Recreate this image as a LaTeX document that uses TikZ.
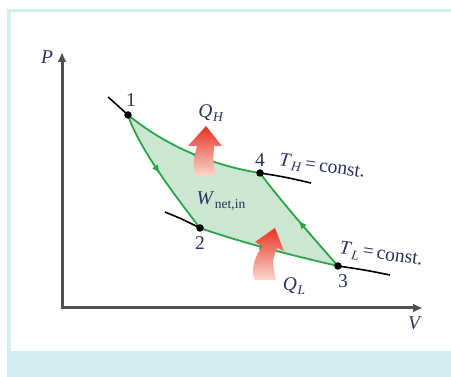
\documentclass[tikz,border=0pt]{standalone}
\usepackage{fontspec}
\setmainfont{Liberation Serif}
\usetikzlibrary{arrows.meta,decorations.markings}
\definecolor{panel}{RGB}{210,238,238}
\definecolor{cycfill}{RGB}{204,230,210}
\definecolor{cycline}{RGB}{40,165,70}
\definecolor{ink}{RGB}{40,50,95}
\definecolor{axisgray}{RGB}{80,80,80}
\definecolor{heattop}{RGB}{232,50,35}
\definecolor{heatbot}{RGB}{250,215,205}
\newcommand{\lowsub}[1]{\kern0.6pt\raisebox{-0.4ex}{\fontsize{13.5}{14}\selectfont #1}}

\begin{document}
\begin{tikzpicture}[x=1pt,y=-1pt,
  every node/.style={font=\fontsize{19.5}{21}\selectfont, text=ink, inner sep=0.5pt},
  proc/.style={cycline, line width=1.8pt, postaction={decorate},
    decoration={markings, mark=at position 0.5 with {\arrow{Latex[length=9pt,width=7pt]}}}},
  iso/.style={black, line width=1.6pt},
  axis/.style={axisgray, line width=3pt, -{Latex[length=10pt,width=9pt]}},
  state/.style={circle, fill=black, inner sep=0pt, minimum size=7.5pt},
  heat/.style={top color=heattop, bottom color=heatbot}]
  \useasboundingbox (0,0) rectangle (451,377);
  % panel
  \fill[panel] (7,9) rectangle (451,377);
  \fill[white] (11,12) rectangle (451,351);
  % axes
  \coordinate (o) at (62,308);
  \coordinate (ptop) at (62,52);
  \coordinate (vend) at (423,308);
  \draw[axis] (o) -- (ptop);
  \draw[axis] ([xshift=-1.5pt]o) -- (vend);
  \node (P) at (47,57) {\textit{P}};
  \node (V) at (415,323) {\textit{V}};
  % states
  \coordinate (s1) at (128,115);
  \coordinate (s2) at (200,228);
  \coordinate (s3) at (338,266);
  \coordinate (s4) at (260,173);
  \coordinate (h0) at (108,97);
  \coordinate (h5) at (311,183);
  \coordinate (l0) at (165,212);
  \coordinate (l5) at (390,275);
  % cycle
  \fill[cycfill] (s1) .. controls (138,146) and (172,192) .. (s2)
    .. controls (240,242) and (290,255) .. (s3)
    .. controls (315,240) and (280,200) .. (s4)
    .. controls (210,165) and (165,145) .. (s1) -- cycle;
  \draw[proc] (s1) .. controls (138,146) and (172,192) .. (s2);
  \draw[proc] (s2) .. controls (240,242) and (290,255) .. (s3);
  \draw[proc] (s3) .. controls (315,240) and (280,200) .. (s4);
  \draw[proc] (s4) .. controls (210,165) and (165,145) .. (s1);
  % isotherms
  \draw[iso] (h0) .. controls (116,104) .. (s1);
  \draw[iso] (s4) .. controls (285,177) .. (h5);
  \draw[iso] (l0) .. controls (182,219) .. (s2);
  \draw[iso] (s3) .. controls (365,270) .. (l5);
  \foreach \s in {s1,s2,s3,s4}
    \node[state] at (\s) {};
  % heat arrows
  \shade[heat] (195,176) .. controls (193,162) .. (197,146) -- (188,146) -- (206,126)
    -- (222,146) -- (214,146) .. controls (213,162) .. (216,176) -- cycle;
  \shade[heat] (254,280) .. controls (253,262) .. (262,246) -- (255,242) -- (275,228)
    -- (284,251) -- (277,248) .. controls (272,262) .. (276,280) -- cycle;
  % labels
  \node (n1) at (131,100) {1};
  \node (n2) at (200,243) {2};
  \node (n3) at (343,281) {3};
  \node (n4) at (260,160) {4};
  \node (qh) at (211,113) {\textit{Q}\lowsub{\textit{H}}};
  \node (ql) at (294,286) {\textit{Q}\lowsub{\textit{L}}};
  \node (wnet) at (221,201) {\textit{W}\lowsub{net,in}};
  \node[rotate=-8] (th) at (322,167) {\textit{T}\lowsub{\textit{H}}\,=\,const.};
  \node[rotate=-8] (tl) at (381,255) {\textit{T}\lowsub{\textit{L}}\,=\,const.};
\end{tikzpicture}
\end{document}
